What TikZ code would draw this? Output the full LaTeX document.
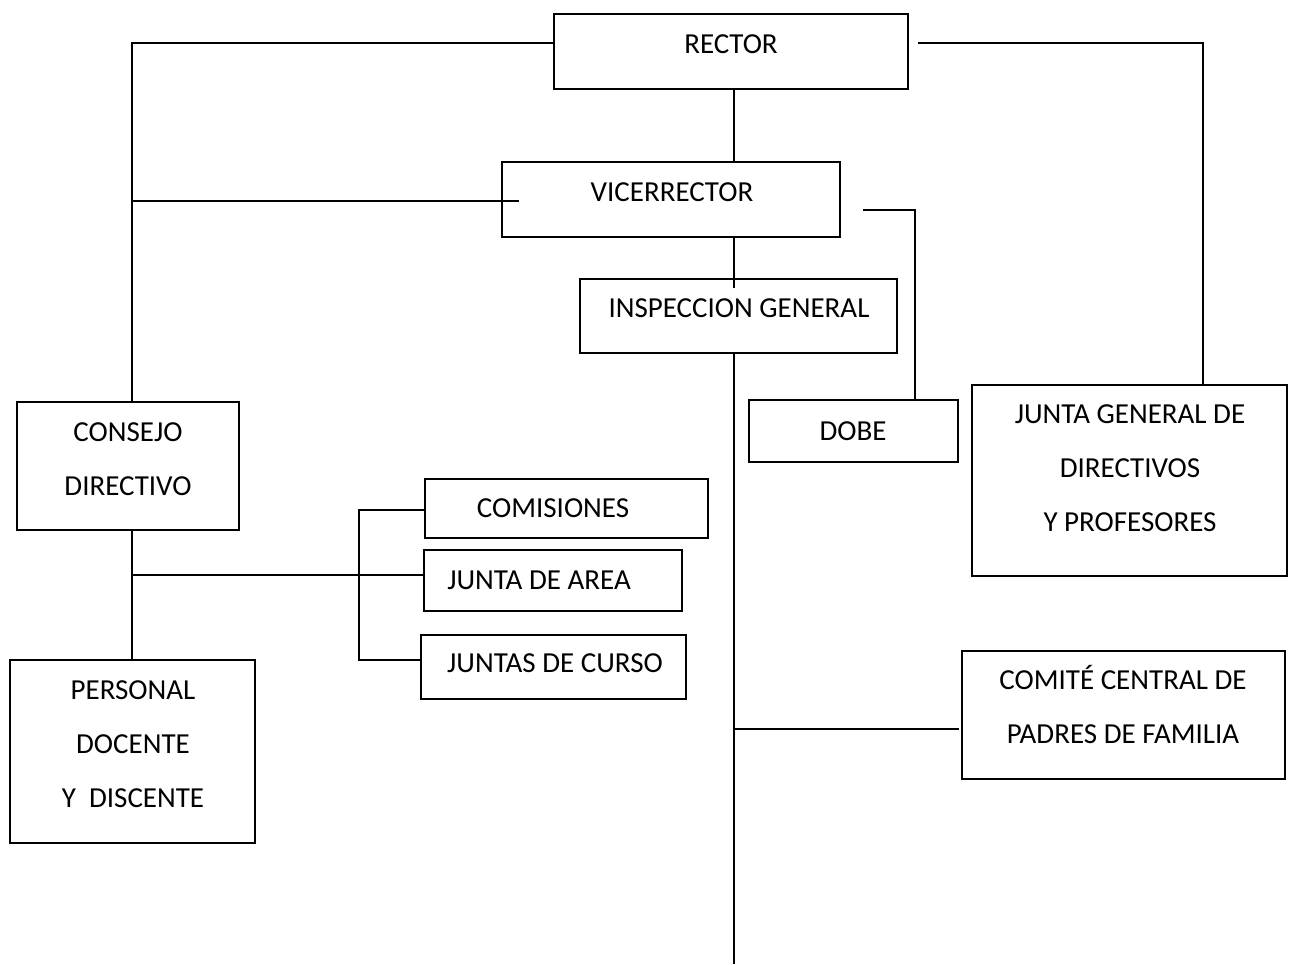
\documentclass[tikz,border=0pt]{standalone}
\usepackage{fontspec}
\setmainfont{Carlito}
\usetikzlibrary{calc}

\begin{document}
\begin{tikzpicture}[
    x=0.5pt, y=-0.5pt,
    every node/.style={font=\fontsize{14.5}{27}\selectfont},
    box/.style ={draw, line width=1pt, rectangle, inner sep=0pt},
    txt/.style ={align=center, inner sep=0pt},
    link/.style={line width=1pt, line join=miter},
]
\useasboundingbox (0,0) rectangle (1289,964);

% --- guide coordinates for the connector rows and buses ---
\coordinate (spine)     at (734,0);
\coordinate (leftbus)   at (132,0);
\coordinate (rightbus)  at (1203,0);
\coordinate (dobebus)   at (915,0);
\coordinate (toprow)    at (0,43);
\coordinate (vicerow)   at (0,201);
\coordinate (doberow)   at (0,210);
\coordinate (arearow)   at (0,575);
\coordinate (bracket)   at (359,510);
\coordinate (cursorow)  at (0,660);
\coordinate (comiterow) at (0,729);
\coordinate (bottom)    at (734,964);

% --- boxes ---
\node[box, minimum width=177pt,   minimum height=37.5pt] (rector)   at (731,51.5)    {};
\node[box, minimum width=169pt,   minimum height=37.5pt] (vice)     at (671,199.5)   {};
\node[box, minimum width=158.5pt, minimum height=37pt]   (insp)     at (738.5,316)   {};
\node[box, minimum width=104.5pt, minimum height=31pt]   (dobe)     at (853.5,431)   {};
\node[box, minimum width=157.5pt, minimum height=95.5pt] (jgen)     at (1129.5,480.5){};
\node[box, minimum width=161.5pt, minimum height=64pt]   (comite)   at (1123.5,715)  {};
\node[box, minimum width=111pt,   minimum height=64pt]   (consejo)  at (128,466)     {};
\node[box, minimum width=122.5pt, minimum height=91.5pt] (personal) at (132.5,751.5) {};
\node[box, minimum width=141.5pt, minimum height=29.5pt] (comis)    at (566.5,508.5) {};
\node[box, minimum width=129pt,   minimum height=30.5pt] (jarea)    at (553,580.5)   {};
\node[box, minimum width=132.5pt, minimum height=32pt]   (jcurso)   at (553.5,667)   {};

% --- texts (set high in their boxes) ---
\node[txt] (rectorTxt)   at (731,44)     {RECTOR};
\node[txt] (viceTxt)     at (672,192)    {VICERRECTOR};
\node[txt] (inspTxt)     at (739,308)    {INSPECCION GENERAL};
\node[txt] (dobeTxt)     at (853,431)    {DOBE};
\node[txt] (jgenTxt)     at (1130,468.5) {JUNTA GENERAL DE\\DIRECTIVOS\\Y PROFESORES};
\node[txt] (comiteTxt)   at (1123,704)   {COMITÉ CENTRAL DE\\PADRES DE FAMILIA};
\node[txt] (consejoTxt)  at (128,459.5)  {CONSEJO\\DIRECTIVO};
\node[txt] (personalTxt) at (133,744)    {PERSONAL\\DOCENTE\\Y~\ DISCENTE};
\node[txt] (comisTxt)    at (553,508)    {COMISIONES};
\node[txt] (jareaTxt)    at (539,580)    {JUNTA DE AREA};
\node[txt] (jcursoTxt)   at (555,663)    {JUNTAS DE CURSO};

% --- main line: rector -> vicerrector -> inspeccion -> bottom ---
\draw[link] (spine |- rector.south) -- (spine |- vice.north);
\draw[link] (spine |- vice.south) -- ([yshift=-5pt]spine |- insp.north);
\draw[link] (spine |- insp.south) -- (bottom);

% --- left bus to consejo and personal ---
\draw[link] (rector.west |- toprow) -| (leftbus |- consejo.north);
\draw[link] ([xshift=9pt]vice.west |- vicerow) -- (leftbus |- vicerow);
\draw[link] (leftbus |- consejo.south) -- (leftbus |- personal.north);
\draw[link] (leftbus |- arearow) -- (jarea.west |- arearow);
\draw[link] (comis.west |- bracket) -- (bracket) -- (bracket |- cursorow) -- (jcurso.west |- cursorow);

% --- right side ---
\draw[link] ([xshift=4.5pt]rector.east |- toprow) -| (rightbus |- jgen.north);
\draw[link] ([xshift=11pt]vice.east |- doberow) -| ([yshift=-1pt]dobebus |- dobe.north);
\draw[link] (spine |- comiterow) -- ([xshift=-1pt]comite.west |- comiterow);
\end{tikzpicture}
\end{document}
